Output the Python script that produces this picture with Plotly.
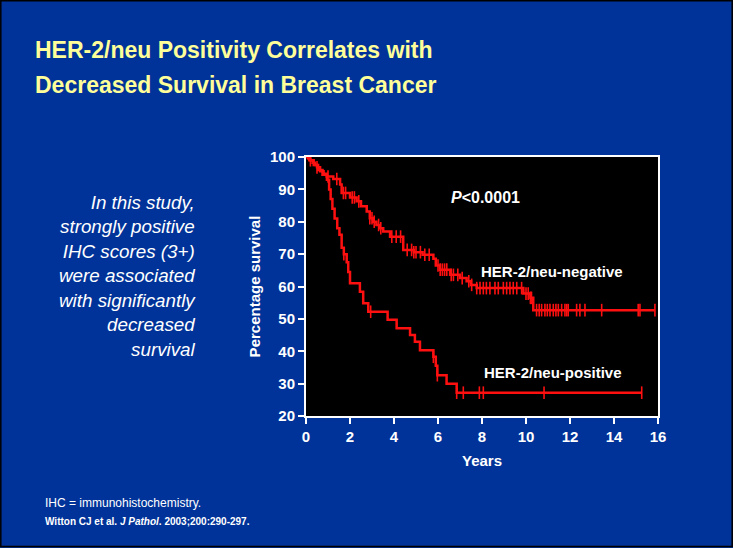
import numpy as np
import plotly.graph_objects as go

# ---- data ----
neg_t = [0, 0.1, 0.2, 0.3, 0.4, 0.5, 0.64, 0.8, 0.94, 1.24, 1.55, 1.62, 2.0, 2.3, 2.5, 2.76,
         2.9, 3.05, 3.2, 3.35, 3.51, 3.82, 4.42, 4.9, 5.3, 5.79, 5.9, 6.09, 6.55, 7.0, 7.3,
         7.5, 7.76, 9.88, 10.2, 10.33, 15.86]
neg_s = [100, 99.5, 99, 98.2, 97.5, 96.8, 95.6, 94.8, 94, 93.2, 91.5, 88.9, 87.5, 86.3, 84.8, 83.2,
         81.1, 80, 79, 78, 77, 75.4, 71.3, 70.6, 69.8, 68.6, 66.5, 65.2, 63.6, 62.6, 61.6,
         60.5, 59.5, 57.8, 56.5, 52.7, 52.7]
neg_cens = [0.2, 0.5, 1.0, 1.4, 1.7, 1.8, 2.1, 2.2, 2.4, 2.9, 3.0, 3.1, 3.3, 3.4, 3.9, 4.1, 4.3,
            4.6, 4.8, 4.9, 5.0, 5.2, 5.4, 5.6, 6.0, 6.1, 6.2, 6.3, 6.4, 6.6, 6.7, 6.9, 7.1, 7.4,
            7.53, 7.76, 7.91, 8.06, 8.2, 8.36, 8.59, 8.74, 8.97, 9.12, 9.27, 9.42, 9.58, 9.8,
            10.0, 10.1, 10.2, 10.25, 10.48, 10.6, 10.71, 10.86, 10.97, 11.09, 11.24, 11.36,
            11.47, 11.62, 11.77, 11.85, 11.92, 12.3, 12.45, 12.68, 13.44, 15.1, 15.18, 15.86]

pos_t = [0, 0.15, 0.35, 0.55, 0.75, 0.95, 1.05, 1.12, 1.2, 1.3, 1.42, 1.52, 1.62, 1.72, 1.85,
         1.92, 2.0, 2.45, 2.6, 2.83, 3.71, 4.12, 4.73, 4.95, 5.18, 5.79, 5.9, 5.97, 6.39, 6.85, 15.26]
pos_s = [100, 99, 97.5, 96, 94.5, 93, 90, 87, 84, 81, 78, 76, 72, 70, 67.5,
         64.5, 61, 58.4, 54.8, 52.2, 49.7, 47.1, 45, 42.9, 40.3, 38.3, 35.5, 32.6, 30, 27.2, 27.2]
pos_cens = [1.72, 2.94, 5.79, 5.97, 6.85, 7.15, 7.88, 8.06, 10.82, 15.26]

x_ticks = [0, 2, 4, 6, 8, 10, 12, 14, 16]
y_ticks = [20, 30, 40, 50, 60, 70, 80, 90, 100]

RED = "#ff1010"
BG = "#003399"
WHITE = "white"
YELLOW = "#ffff99"
FONT = "Liberation Sans, Arial, sans-serif"


def step_value(tt, ss, x):
    tt = np.asarray(tt)
    ss = np.asarray(ss)
    idx = np.searchsorted(tt, x, side="right") - 1
    return ss[np.clip(idx, 0, len(ss) - 1)]


fig = go.Figure()
for tt, ss, cc in [(neg_t, neg_s, neg_cens), (pos_t, pos_s, pos_cens)]:
    fig.add_trace(go.Scatter(x=tt, y=ss, mode="lines", line=dict(color=RED, width=2.5, shape="hv"),
                             showlegend=False, hoverinfo="skip"))
    fig.add_trace(go.Scatter(x=cc, y=step_value(tt, ss, cc), mode="markers",
                             marker=dict(symbol="line-ns", size=9, line=dict(color=RED, width=1.6)),
                             showlegend=False, hoverinfo="skip"))

# plot area in pixels
L, R, T, B = 306, 658, 157, 416
W, H = 733, 548


def px(xp):
    return (xp - L) / (R - L)


def py(yp):
    return (B - yp) / (B - T)


annotations = [
    dict(text="HER-2/neu Positivity Correlates with", x=px(33), y=py(50), xanchor="left",
         yanchor="middle", align="left", font=dict(family=FONT, size=23, color=YELLOW, weight="bold")),
    dict(text="Decreased Survival in Breast Cancer", x=px(33), y=py(85), xanchor="left",
         yanchor="middle", align="left", font=dict(family=FONT, size=23, color=YELLOW, weight="bold")),
    dict(text="<i>In this study,<br>strongly positive<br>IHC scores (3+)<br>were associated<br>"
              "with significantly<br>decreased<br>survival</i>",
         x=px(198), y=py(190), xanchor="right", yanchor="top", align="right",
         font=dict(family=FONT, size=18.8, color=WHITE)),
    dict(text="<b><i>P</i>&lt;0.0001</b>", x=px(449), y=py(197), xanchor="left", yanchor="middle",
         font=dict(family=FONT, size=16, color=WHITE)),
    dict(text="<b>HER-2/neu-negative</b>", x=px(479), y=py(271), xanchor="left", yanchor="middle",
         font=dict(family=FONT, size=15, color=WHITE)),
    dict(text="<b>HER-2/neu-positive</b>", x=px(482), y=py(372), xanchor="left", yanchor="middle",
         font=dict(family=FONT, size=15, color=WHITE)),
    dict(text="IHC = immunohistochemistry.", x=px(43), y=py(503), xanchor="left", yanchor="middle",
         font=dict(family=FONT, size=12, color=WHITE)),
    dict(text="<b>Witton CJ et al. <i>J Pathol</i>. 2003;200:290-297.</b>", x=px(43), y=py(521),
         xanchor="left", yanchor="middle", font=dict(family=FONT, size=10, color=WHITE)),
]
for a in annotations:
    a.update(xref="paper", yref="paper", showarrow=False)

fig.update_layout(
    width=W, height=H,
    margin=dict(l=L, r=W - R, t=T, b=H - B, pad=0),
    paper_bgcolor=BG, plot_bgcolor="black",
    font=dict(family=FONT, color=WHITE),
    annotations=annotations,
    shapes=[dict(type="rect", xref="paper", yref="paper", x0=px(0.8), x1=px(W - 0.8),
                 y0=py(H - 1.5), y1=py(0.8), line=dict(color="black", width=1.5), layer="below")],
    xaxis=dict(range=[0, 16], tickvals=x_ticks, ticktext=[str(v) for v in x_ticks],
               showgrid=False, zeroline=False, showline=True, linecolor=WHITE, linewidth=2,
               mirror=True, ticks="outside", tickcolor=WHITE, ticklen=6, tickwidth=2,
               tickfont=dict(size=15, color=WHITE, weight="bold"),
               title=dict(text="<b>Years</b>", font=dict(size=15, color=WHITE), standoff=11)),
    yaxis=dict(range=[20, 100], tickvals=y_ticks, ticktext=[str(v) for v in y_ticks],
               showgrid=False, zeroline=False, showline=True, linecolor=WHITE, linewidth=2,
               mirror=True, ticks="outside", tickcolor=WHITE, ticklen=6, tickwidth=2,
               tickfont=dict(size=15, color=WHITE, weight="bold"),
               title=dict(text="<b>Percentage survival</b>", font=dict(size=15, color=WHITE), standoff=6)),
)

fig.write_html("out.html", config={"displayModeBar": False},
               post_script="document.body.style.margin='0';document.body.style.overflow='hidden';")
